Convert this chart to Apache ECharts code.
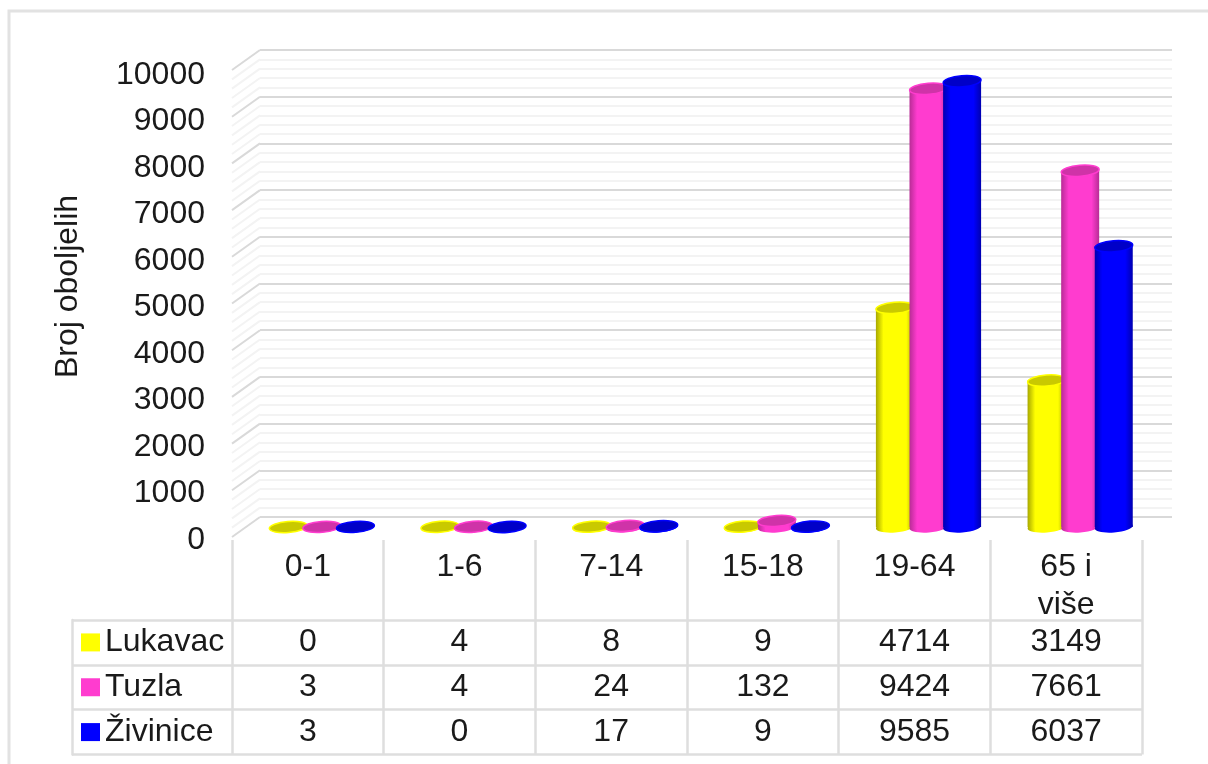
<!DOCTYPE html>
<html>
<head>
<meta charset="utf-8">
<title>Broj oboljelih</title>
<style>
  html, body { margin: 0; padding: 0; background: #fff; }
  #chart { width: 1208px; height: 764px; }
</style>
<script src="https://cdn.jsdelivr.net/npm/echarts@6/dist/echarts.min.js"></script>
</head>
<body>
<div id="chart"></div>
<script>
var categories = ['0-1', '1-6', '7-14', '15-18', '19-64', '65 i\nviše'];
var seriesNames = ['Lukavac', 'Tuzla', 'Živinice'];
var lukavac = [0, 4, 8, 9, 4714, 3149];
var tuzla = [3, 4, 24, 132, 9424, 7661];
var zivinice = [3, 0, 17, 9, 9585, 6037];
var wallTicks = [];
for (var t = 0; t <= 10000; t += 200) wallTicks.push(t);

var FONT = '"Liberation Sans", Arial, sans-serif';
var TEXT = '#1a1a1a';
var LINE = '#dedede';
var BAR_W = 38;

// edge / middle tones of each cylinder
var tones = [
  { main: '#ffff00', dark: '#a8a800', top: '#c9c900' },
  { main: '#ff3ccf', dark: '#b82c96', top: '#cf33a8' },
  { main: '#0000ff', dark: '#0000b0', top: '#0000c8' }
];

function cylinder(idx) {
  return function (params, api) {
    var tone = tones[idx];
    var band = api.size([1, 0])[0];
    var cx = api.coord([api.value(0), 0])[0] + (idx - 1) * band * 0.2215;
    var y0 = api.coord([api.value(0), 0])[1];
    var y1 = api.coord([api.value(0), api.value(1)])[1];
    var rx = BAR_W / 2, ry = 5.5;
    var fill = new echarts.graphic.LinearGradient(0, 0, 1, 0, [
      { offset: 0, color: tone.dark },
      { offset: 0.2, color: tone.main },
      { offset: 0.8, color: tone.main },
      { offset: 1, color: tone.dark }
    ]);
    return {
      type: 'group',
      children: [
        { type: 'ellipse', shape: { cx: cx, cy: y0, rx: rx, ry: ry }, rotation: 0.08, originX: cx, originY: y0,
          style: { fill: fill } },
        { type: 'rect', shape: { x: cx - rx, y: y1, width: BAR_W, height: y0 - y1 }, style: { fill: fill } },
        { type: 'ellipse', shape: { cx: cx, cy: y1, rx: rx, ry: ry }, rotation: 0.08, originX: cx, originY: y1,
          style: { fill: tone.top, stroke: tone.main, lineWidth: 1.5 } }
      ]
    };
  };
}

function toPairs(arr) {
  return arr.map(function (v, i) { return [i, v]; });
}

var tableCells = [];
[lukavac, tuzla, zivinice].forEach(function (row, r) {
  row.forEach(function (v, c) { tableCells.push([c, r, v]); });
});

var chart = echarts.init(document.getElementById('chart'));
chart.setOption({
  animation: false,
  backgroundColor: '#fff',
  textStyle: { fontFamily: FONT },
  graphic: [{
    type: 'rect', silent: true,
    shape: { x: 9, y: 11, width: 1220, height: 780 },
    style: { fill: 'none', stroke: '#e2e2e2', lineWidth: 3 }
  }],
  grid: [
    { left: 260, top: 50, width: 912, height: 467 },   // back wall
    { left: 232, top: 75, width: 910, height: 465 },   // front plane with tick labels
    { left: 246, top: 62, width: 910, height: 465 },   // cylinders
    { left: 232, top: 620, width: 910, height: 134.5 } // data table
  ],
  xAxis: [
    { gridIndex: 0, type: 'value', min: 0, max: 1, show: false },
    {
      gridIndex: 1, type: 'category', data: categories,
      axisLine: { show: false },
      axisTick: { show: true, length: 80, lineStyle: { color: LINE, width: 2.5 } },
      axisLabel: { fontSize: 32, color: TEXT, margin: 8, lineHeight: 38, verticalAlign: 'top', interval: 0 }
    },
    { gridIndex: 2, type: 'category', data: categories, show: false },
    {
      gridIndex: 3, type: 'category', data: categories, show: true,
      axisLine: { show: false }, axisTick: { show: false }, axisLabel: { show: false },
      splitLine: { show: true, interval: 0, lineStyle: { color: LINE, width: 2.5 } }
    }
  ],
  yAxis: [
    {
      gridIndex: 0, type: 'value', min: 0, max: 10000, interval: 1000,
      axisLine: { show: false }, axisTick: { show: false }, axisLabel: { show: false },
      splitLine: { show: true, lineStyle: { color: '#d9d9d9', width: 2 } },
      minorTick: { show: false, splitNumber: 5 },
      minorSplitLine: { show: true, lineStyle: { color: '#f3f3f3', width: 2 } }
    },
    {
      gridIndex: 1, type: 'value', min: 0, max: 10000, interval: 1000,
      name: 'Broj oboljelih', nameLocation: 'middle', nameGap: 148, nameRotate: 90,
      nameTextStyle: { fontSize: 32, color: TEXT, padding: [0, 0, 0, 42] },
      axisLine: { show: false }, axisTick: { show: false }, splitLine: { show: false },
      axisLabel: { fontSize: 32, color: TEXT, margin: 27, formatter: function (v) { return String(v); } }
    },
    { gridIndex: 2, type: 'value', min: 0, max: 10000, show: false },
    {
      gridIndex: 3, type: 'category', inverse: true, data: seriesNames, offset: 160,
      axisLine: { show: true, lineStyle: { color: LINE, width: 2.5 } },
      axisTick: { show: true, inside: true, length: 160, lineStyle: { color: LINE, width: 2.5 } },
      splitLine: { show: true, interval: 0, lineStyle: { color: LINE, width: 2.5 } },
      axisLabel: {
        inside: true, margin: 9, align: 'left', fontSize: 32, color: TEXT, interval: 0,
        formatter: function (name, i) { return '{k' + i + '|}{t|' + name + '}'; },
        rich: {
          k0: { width: 19, height: 18, backgroundColor: tones[0].main },
          k1: { width: 19, height: 18, backgroundColor: tones[1].main },
          k2: { width: 19, height: 18, backgroundColor: tones[2].main },
          t: { fontSize: 32, color: TEXT, padding: [0, 0, 0, 5] }
        }
      }
    }
  ],
  series: [
    {
      // slanted side-wall lines, from the front plane up to the back wall
      type: 'custom', xAxisIndex: 0, yAxisIndex: 0, silent: true, z: 1,
      data: wallTicks.map(function (v) { return [0, v]; }),
      renderItem: function (params, api) {
        var p = api.coord([0, api.value(1)]);
        var major = api.value(1) % 1000 === 0;
        return {
          type: 'line',
          shape: { x1: p[0] - 28, y1: p[1] + 20, x2: p[0], y2: p[1] },
          style: { stroke: major ? '#d9d9d9' : '#f3f3f3', lineWidth: 2 }
        };
      }
    },
    { name: seriesNames[0], type: 'custom', xAxisIndex: 2, yAxisIndex: 2, z: 3, data: toPairs(lukavac), renderItem: cylinder(0) },
    { name: seriesNames[1], type: 'custom', xAxisIndex: 2, yAxisIndex: 2, z: 4, data: toPairs(tuzla), renderItem: cylinder(1) },
    { name: seriesNames[2], type: 'custom', xAxisIndex: 2, yAxisIndex: 2, z: 5, data: toPairs(zivinice), renderItem: cylinder(2) },
    {
      // data table values
      type: 'scatter', xAxisIndex: 3, yAxisIndex: 3, symbolSize: 0, silent: true,
      itemStyle: { opacity: 1 },
      data: tableCells,
      label: {
        show: true, position: 'inside', fontSize: 32, color: TEXT,
        formatter: function (p) { return String(p.value[2]); }
      }
    }
  ]
});
</script>
</body>
</html>
